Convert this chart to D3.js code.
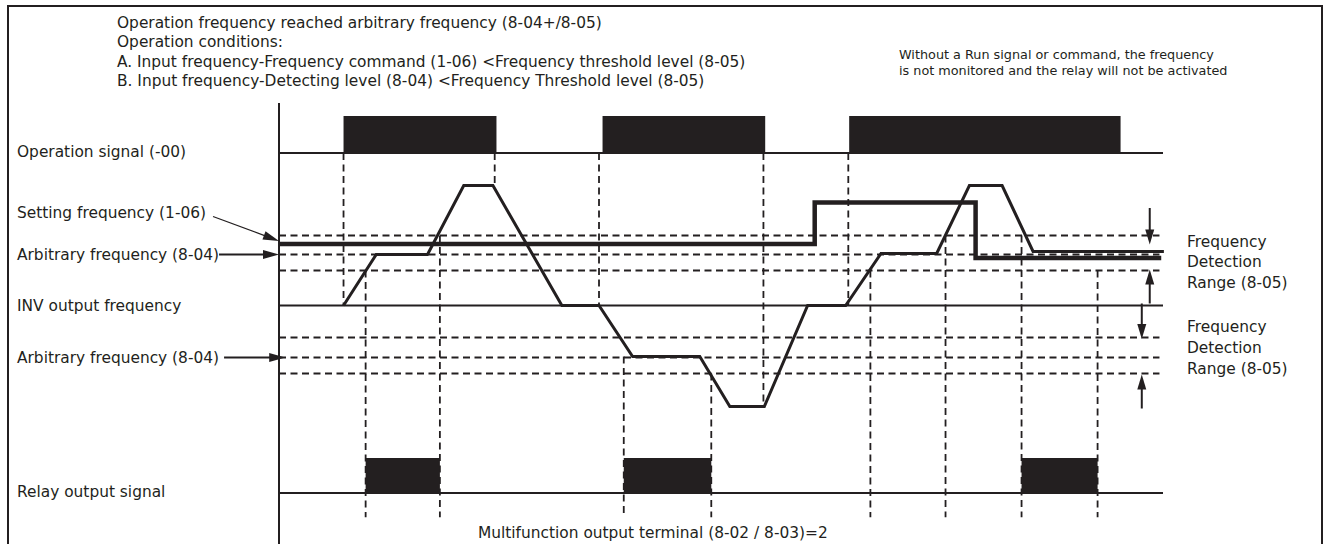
<!DOCTYPE html>
<html><head><meta charset="utf-8">
<script src="https://cdn.jsdelivr.net/npm/d3@7"></script>
<style>html,body{margin:0;padding:0;background:#fff;} svg{display:block;font-family:"DejaVu Sans",sans-serif;}</style>
</head><body><svg id="c" width="1329" height="544"></svg>
<script>
// ---------------- data ----------------
const titleLines = [
  "Operation frequency reached arbitrary frequency (8-04+/8-05)",
  "Operation conditions:",
  "A. Input frequency-Frequency command (1-06) <Frequency threshold level (8-05)",
  "B. Input frequency-Detecting level (8-04) <Frequency Threshold level (8-05)"
];
const noteLines = [
  "Without a Run signal or command, the frequency",
  "is not monitored and the relay will not be activated"
];
const bottomNote = "Multifunction output terminal (8-02 / 8-03)=2";
const rangeLabel = ["Frequency", "Detection", "Range (8-05)"];

// time axis 0..100, frequency axis in Hz
const opPulses    = [[7.3, 24.6], [36.6, 55.0], [64.5, 95.2]];
const relayPulses = [[9.8, 18.2], [39.0, 48.9], [84.0, 92.6]];
const invTimes = [7.3, 11.0, 16.8, 20.9, 24.2, 32.0, 36.2, 40.0, 47.6, 51.0, 54.9, 59.8, 64.1, 68.1, 74.4, 78.1, 81.8, 85.3, 100.1];
const invFreqs = [0, 25.5, 25.5, 60, 60, 0, 0, -25.5, -25.5, -50.5, -50.5, 0, 0, 26, 26, 60, 60, 27, 27];
const setTimes = [0, 60.6, 60.6, 78.8, 78.8, 99.8];
const setFreqs = [30.75, 30.75, 51.5, 51.5, 23.75, 23.75];
const bandLevels = [35, 25.5, 17.5, -16, -26, -34];
const guidesFromOp   = [[7.3, 0], [24.4, 60], [36.2, 0], [54.8, -50.5], [64.4, 0]];
const guidesToRelay  = [[9.8, 17.5], [18.2, 35], [39.0, -25.5], [48.9, -34], [66.9, 17.5], [75.4, 35], [84.0, 35], [92.6, 17.5]];
const rangeArrows = [[98.5, 48.75, 30.5], [98.5, 1, 18], [97.6, 1, -16.75], [97.6, -51.5, -34.5]];

// ---------------- scales ----------------
const ink = "#231f20";
const svg = d3.select("#c");
const x = d3.scaleLinear().domain([0, 100]).range([279, 1163]);
const y = d3.scaleLinear().domain([-60, 60]).range([425.5, 185.5]);
const opY = d3.scaleLinear().domain([0, 1]).range([153, 116]);
const relayY = d3.scaleLinear().domain([0, 1]).range([493, 458]);
const tail = relayY(-0.69);

// frame
svg.append("rect").attr("x", 8).attr("y", 6).attr("width", 1314).attr("height", 580)
  .attr("fill", "none").attr("stroke", ink).attr("stroke-width", 2);

// title
svg.append("g").selectAll("text").data(titleLines).join("text")
  .attr("x", 117).attr("y", (d, i) => 22.7 + i * 19.4)
  .attr("dominant-baseline", "central").attr("font-size", 15.4).attr("fill", ink).text(d => d);
svg.append("g").selectAll("text").data(noteLines).join("text")
  .attr("x", 899).attr("y", (d, i) => 54 + i * 16.3)
  .attr("dominant-baseline", "central").attr("font-size", 12.8).attr("fill", ink).text(d => d);

// vertical axis
svg.append("line").attr("x1", x(0)).attr("x2", x(0)).attr("y1", 103).attr("y2", 544)
  .attr("stroke", ink).attr("stroke-width", 2);

// dashed levels
svg.append("g").selectAll("line").data(bandLevels).join("line")
  .attr("x1", x(0)).attr("x2", x(99.6)).attr("y1", d => y(d)).attr("y2", d => y(d))
  .attr("stroke", ink).attr("stroke-width", 1.8).attr("stroke-dasharray", "7,4.5");

// vertical guides
svg.append("g").selectAll("line").data(guidesFromOp).join("line")
  .attr("x1", d => x(d[0])).attr("x2", d => x(d[0])).attr("y1", opY(0)).attr("y2", d => y(d[1]))
  .attr("stroke", ink).attr("stroke-width", 1.8).attr("stroke-dasharray", "7,4.5");
svg.append("g").selectAll("line").data(guidesToRelay).join("line")
  .attr("x1", d => x(d[0])).attr("x2", d => x(d[0])).attr("y1", d => y(d[1])).attr("y2", tail)
  .attr("stroke", ink).attr("stroke-width", 1.8).attr("stroke-dasharray", "7,4.5");

// pulses
svg.append("g").selectAll("rect").data(opPulses).join("rect")
  .attr("x", d => x(d[0])).attr("width", d => x(d[1]) - x(d[0]))
  .attr("y", opY(1)).attr("height", opY(0) - opY(1)).attr("fill", ink);
svg.append("g").selectAll("rect").data(relayPulses).join("rect")
  .attr("x", d => x(d[0])).attr("width", d => x(d[1]) - x(d[0]))
  .attr("y", relayY(1)).attr("height", relayY(0) - relayY(1)).attr("fill", ink);

// baselines
[opY(0), y(0), relayY(0)].forEach(v => {
  svg.append("line").attr("x1", x(0)).attr("x2", x(100)).attr("y1", v).attr("y2", v)
    .attr("stroke", ink).attr("stroke-width", 2);
});

// setting frequency and INV output
const lineGen = d3.line().x(d => x(d[0])).y(d => y(d[1]));
svg.append("path").attr("d", lineGen(d3.zip(setTimes, setFreqs)))
  .attr("fill", "none").attr("stroke", ink).attr("stroke-width", 4.5).attr("stroke-linejoin", "miter");
svg.append("path").attr("d", lineGen(d3.zip(invTimes, invFreqs)))
  .attr("fill", "none").attr("stroke", ink).attr("stroke-width", 3).attr("stroke-linejoin", "miter");

// arrows
function arrow(x1, y1, x2, y2, w, len, hw) {
  const dx = x2 - x1, dy = y2 - y1, L = Math.hypot(dx, dy), ux = dx / L, uy = dy / L;
  const bx = x2 - ux * len, by = y2 - uy * len;
  svg.append("line").attr("x1", x1).attr("y1", y1).attr("x2", bx + ux * 2).attr("y2", by + uy * 2)
    .attr("stroke", ink).attr("stroke-width", w);
  svg.append("path").attr("d", `M${x2},${y2}L${bx - uy * hw},${by + ux * hw}L${bx + uy * hw},${by - ux * hw}Z`)
    .attr("fill", ink);
}
rangeArrows.forEach(a => arrow(x(a[0]), y(a[1]), x(a[0]), y(a[2]), 2, 15, 4.5));

// range labels
[[241.5], [327]].forEach(([y0]) => {
  svg.append("g").selectAll("text").data(rangeLabel).join("text")
    .attr("x", 1187).attr("y", (d, i) => y0 + i * 20.8)
    .attr("dominant-baseline", "central").attr("font-size", 15.4).attr("fill", ink).text(d => d);
});

// row labels
function label(t, yy) {
  return svg.append("text").attr("x", 17).attr("y", yy).attr("dominant-baseline", "central")
    .attr("font-size", 15.4).attr("fill", ink).text(t);
}
label("Operation signal (-00)", opY(0) - 1);
const sl = label("Setting frequency (1-06)", 212.7);
const sw = sl.node().getComputedTextLength();
arrow(17 + sw + 7, 216.5, x(0), y(32.3), 1.3, 16, 4.5);
const al = label("Arbitrary frequency (8-04)", y(25.5));
arrow(17 + al.node().getComputedTextLength(), y(25.5), x(0), y(25.5), 2, 16, 4.5);
label("INV output frequency", y(0));
const bl = label("Arbitrary frequency (8-04)", y(-26));
arrow(17 + bl.node().getComputedTextLength() + 5, y(-26), x(0.7), y(-26), 2, 16, 4.5);
label("Relay output signal", relayY(0) - 1);

svg.append("text").attr("x", 478).attr("y", 533).attr("dominant-baseline", "central")
  .attr("font-size", 15.4).attr("fill", ink).text(bottomNote);
</script></body></html>
